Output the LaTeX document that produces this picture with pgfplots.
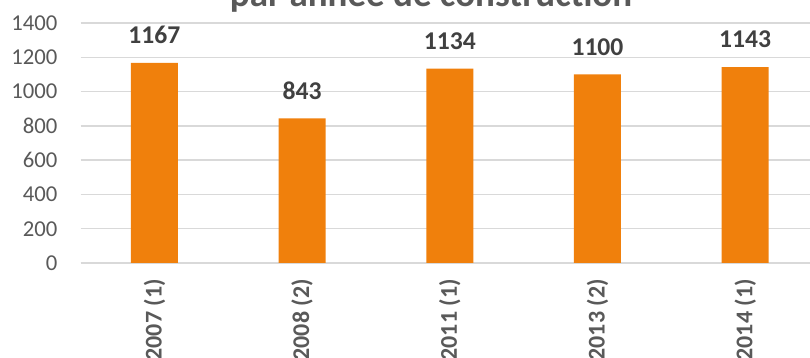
\documentclass[border=0pt]{standalone}
\usepackage{pgfplots}
\pgfplotsset{compat=1.18}
\usepackage{fontspec}
\setmainfont{Carlito}
\definecolor{barorange}{HTML}{F0800C}
\definecolor{ticktext}{HTML}{595959}
\definecolor{labeltext}{HTML}{404040}
\definecolor{gridgray}{HTML}{D9D9D9}
\begin{document}
\begin{tikzpicture}
\begin{axis}[
  at={(80.6bp,95bp)}, anchor=south west,
  scale only axis, width=738.4bp, height=240bp,
  xmin=-0.5, xmax=4.5, ymin=0, ymax=1400,
  ytick={0,200,...,1400},
  xtick=data,
  xticklabels={2007 (1),2008 (2),2011 (1),2013 (2),2014 (1)},
  axis x line=bottom, axis y line=left,
  x axis line style={-, draw=gridgray, line width=1.3bp},
  y axis line style={draw=none},
  major tick length=0pt,
  ymajorgrids, grid style={draw=gridgray, line width=1.3bp},
  /pgf/number format/assume math mode=true,
  /pgf/number format/1000 sep={},
  yticklabel style={font=\fontsize{22.7bp}{26bp}\selectfont, text=ticktext, anchor=east, inner sep=0pt, xshift=-23bp},
  xticklabel style={font=\bfseries\fontsize{24bp}{28bp}\selectfont, text=ticktext, rotate=90, anchor=east, inner sep=0pt},
  xticklabel shift=16bp,
  nodes near coords,
  every node near coord/.append style={font=\bfseries\fontsize{25.6bp}{29bp}\selectfont, text=labeltext, anchor=south, inner sep=0pt, yshift=19bp},
]
\addplot[ybar, bar width=47bp, fill=barorange, draw=none] coordinates {(0,1167) (1,843) (2,1134) (3,1100) (4,1143)};
\end{axis}
\node[anchor=base, font=\bfseries\fontsize{37bp}{40bp}\selectfont, text=ticktext, inner sep=0pt] at (431bp,351bp) {par année de construction};
\pgfresetboundingbox
\useasboundingbox (0,0) rectangle (810bp,358bp);
\end{tikzpicture}
\end{document}
